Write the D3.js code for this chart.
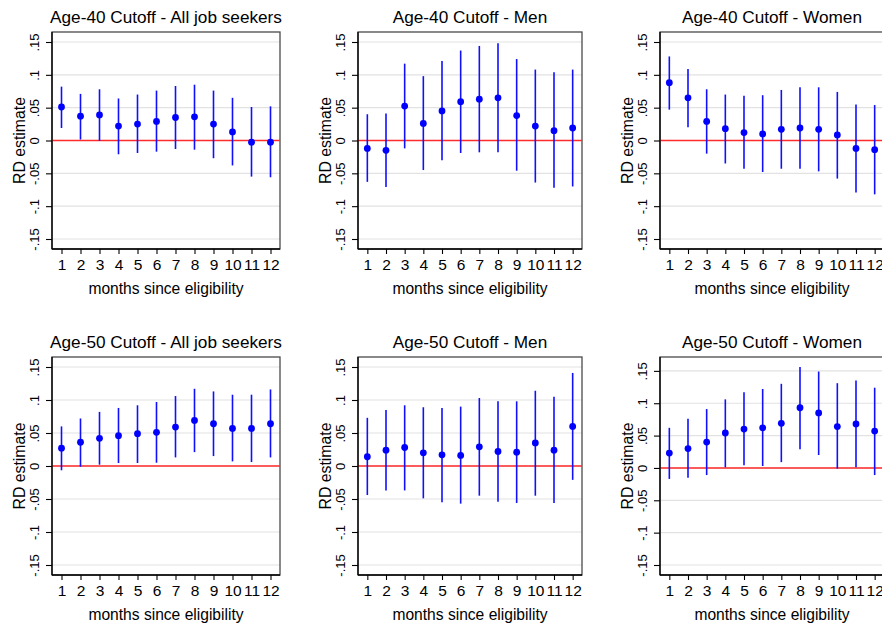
<!DOCTYPE html>
<html>
<head>
<meta charset="utf-8">
<script src="https://cdn.jsdelivr.net/npm/d3@7"></script>
<style>
  html, body { margin: 0; padding: 0; background: #fff; }
  svg { display: block; }
  text { font-family: "Liberation Sans", Arial, Helvetica, sans-serif; fill: #000; }
</style>
</head>
<body>
<svg id="chart" width="882" height="626"></svg>
<script>
// Months since eligibility (x categories)
const months = [1, 2, 3, 4, 5, 6, 7, 8, 9, 10, 11, 12];
// y-axis tick values
const yTicks = [-0.15, -0.1, -0.05, 0, 0.05, 0.1, 0.15];

// Panel titles
const titles = [
  "Age-40 Cutoff - All job seekers", "Age-40 Cutoff - Men", "Age-40 Cutoff - Women",
  "Age-50 Cutoff - All job seekers", "Age-50 Cutoff - Men", "Age-50 Cutoff - Women"
];

// RD point estimates and 95% confidence bounds per panel
const a40AllEst = [0.051, 0.037, 0.039, 0.022, 0.025, 0.029, 0.035, 0.036, 0.025, 0.013, -0.0025, -0.0025];
const a40AllLo  = [0.019, 0.0015, -0.0005, -0.021, -0.019, -0.017, -0.013, -0.014, -0.027, -0.038, -0.055, -0.056];
const a40AllHi  = [0.082, 0.071, 0.078, 0.064, 0.070, 0.076, 0.083, 0.085, 0.076, 0.065, 0.051, 0.052];

const a40MenEst = [-0.012, -0.015, 0.0525, 0.026, 0.045, 0.059, 0.063, 0.065, 0.038, 0.022, 0.015, 0.019];
const a40MenLo  = [-0.063, -0.071, -0.012, -0.045, -0.030, -0.019, -0.018, -0.018, -0.046, -0.064, -0.072, -0.070];
const a40MenHi  = [0.040, 0.041, 0.117, 0.098, 0.121, 0.137, 0.144, 0.148, 0.124, 0.108, 0.104, 0.108];

const a40WomEst = [0.088, 0.065, 0.029, 0.018, 0.012, 0.010, 0.017, 0.019, 0.017, 0.0085, -0.012, -0.014];
const a40WomLo  = [0.047, 0.020, -0.020, -0.035, -0.043, -0.048, -0.043, -0.043, -0.047, -0.058, -0.079, -0.082];
const a40WomHi  = [0.128, 0.109, 0.078, 0.070, 0.068, 0.069, 0.077, 0.081, 0.081, 0.074, 0.055, 0.054];

const a50AllEst = [0.027, 0.036, 0.042, 0.046, 0.049, 0.051, 0.059, 0.069, 0.064, 0.057, 0.057, 0.064];
const a50AllLo  = [-0.0065, -0.001, 0.002, 0.0045, 0.0045, 0.005, 0.013, 0.021, 0.015, 0.007, 0.006, 0.013];
const a50AllHi  = [0.060, 0.072, 0.082, 0.088, 0.092, 0.097, 0.106, 0.117, 0.113, 0.108, 0.108, 0.116];

const a50MenEst = [0.014, 0.024, 0.028, 0.020, 0.017, 0.016, 0.029, 0.022, 0.021, 0.035, 0.024, 0.060];
const a50MenLo  = [-0.044, -0.037, -0.037, -0.049, -0.055, -0.057, -0.045, -0.054, -0.056, -0.045, -0.056, -0.021];
const a50MenHi  = [0.073, 0.085, 0.092, 0.089, 0.088, 0.090, 0.103, 0.098, 0.098, 0.114, 0.105, 0.141];

const a50WomEst = [0.023, 0.030, 0.040, 0.054, 0.060, 0.062, 0.069, 0.093, 0.085, 0.064, 0.068, 0.057];
const a50WomLo  = [-0.017, -0.015, -0.011, 0.001, 0.004, 0.003, 0.009, 0.029, 0.020, -0.001, 0.001, -0.011];
const a50WomHi  = [0.062, 0.076, 0.091, 0.106, 0.117, 0.122, 0.130, 0.156, 0.149, 0.131, 0.135, 0.124];

const panelSeries = [
  [a40AllEst, a40AllLo, a40AllHi],
  [a40MenEst, a40MenLo, a40MenHi],
  [a40WomEst, a40WomLo, a40WomHi],
  [a50AllEst, a50AllLo, a50AllHi],
  [a50MenEst, a50MenLo, a50MenHi],
  [a50WomEst, a50WomLo, a50WomHi]
];

// Plot-region frames of the 3x2 grid
const cols = [{ x0: 52, x1: 280 }, { x0: 358, x1: 582 }, { x0: 660, x1: 884 }];
const rows = [{ y0: 32, y1: 249 }, { y0: 357, y1: 575 }];
const pad = 10; // inner margin between data range and frame

const svg = d3.select("#chart");
const fmt = d => d === 0 ? "0" : String(+d.toFixed(2)).replace("0.", ".");

panelSeries.forEach((s, i) => {
  const col = cols[i % 3], row = rows[Math.floor(i / 3)];
  const [est, lo, hi] = s;
  const rows_ = months.map((m, k) => ({ m, est: est[k], lo: lo[k], hi: hi[k] }));

  const yMin = Math.min(-0.15, d3.min(lo));
  const yMax = Math.max(0.15, d3.max(hi));
  const x = d3.scaleLinear().domain([0.5, 12.5]).range([col.x0, col.x1]);
  const y = d3.scaleLinear().domain([yMin, yMax]).range([row.y1 - pad, row.y0 + pad]);

  const g = svg.append("g");

  // Gridlines
  g.selectAll("line.grid").data(yTicks).join("line")
    .attr("class", "grid")
    .attr("x1", col.x0).attr("x2", col.x1)
    .attr("y1", d => y(d)).attr("y2", d => y(d))
    .attr("stroke", "#e2e2e2").attr("stroke-width", 1.2);

  // Plot-region outline
  g.append("rect")
    .attr("x", col.x0).attr("y", row.y0)
    .attr("width", col.x1 - col.x0).attr("height", row.y1 - row.y0)
    .attr("fill", "none").attr("stroke", "#4a4a4a").attr("stroke-width", 1.3);

  // Zero reference line
  g.append("line")
    .attr("x1", col.x0).attr("x2", col.x1)
    .attr("y1", y(0)).attr("y2", y(0))
    .attr("stroke", "#ff2a2a").attr("stroke-width", 1.4);

  // Confidence intervals
  g.selectAll("line.ci").data(rows_).join("line")
    .attr("class", "ci")
    .attr("x1", d => x(d.m)).attr("x2", d => x(d.m))
    .attr("y1", d => y(d.lo)).attr("y2", d => y(d.hi))
    .attr("stroke", "#1010ff").attr("stroke-width", 1.6);

  // Point estimates
  g.selectAll("circle").data(rows_).join("circle")
    .attr("cx", d => x(d.m)).attr("cy", d => y(d.est))
    .attr("r", 3.4).attr("fill", "#0000ff");

  // Y axis
  const ya = g.append("g").attr("transform", `translate(${col.x0},0)`)
    .call(d3.axisLeft(y).tickValues(yTicks).tickFormat(fmt).tickSize(6).tickSizeOuter(0));
  ya.select(".domain").attr("stroke", "#000").attr("stroke-width", 1.3)
    .attr("d", `M0,${row.y0}V${row.y1}`);
  ya.selectAll(".tick line").attr("stroke", "#000").attr("stroke-width", 1.1);
  ya.selectAll(".tick text")
    .attr("transform", "rotate(-90)")
    .attr("x", 0).attr("y", -13.5).attr("dy", 0)
    .attr("text-anchor", "middle")
    .style("font-size", "13px").style("font-family", "'Liberation Sans', Arial, sans-serif");

  // X axis
  const xa = g.append("g").attr("transform", `translate(0,${row.y1})`)
    .call(d3.axisBottom(x).tickValues(months).tickFormat(d3.format("d")).tickSize(5).tickSizeOuter(0));
  xa.select(".domain").attr("stroke", "#000").attr("stroke-width", 1.3)
    .attr("d", `M${col.x0},0H${col.x1}`);
  xa.selectAll(".tick line").attr("stroke", "#000").attr("stroke-width", 1.1);
  xa.selectAll(".tick text")
    .attr("y", 20.5).attr("dy", 0)
    .style("font-size", "15.5px").style("font-family", "'Liberation Sans', Arial, sans-serif");

  const cx = (col.x0 + col.x1) / 2, cy = (row.y0 + row.y1) / 2;

  // Panel title
  g.append("text").attr("x", cx).attr("y", row.y0 - 9)
    .attr("text-anchor", "middle").style("font-size", "17.2px")
    .text(titles[i]);

  // Axis titles
  g.append("text").attr("x", cx).attr("y", row.y1 + 45)
    .attr("text-anchor", "middle").style("font-size", "15.6px")
    .text("months since eligibility");
  g.append("text")
    .attr("transform", `translate(${col.x0 - 27},${cy}) rotate(-90)`)
    .attr("text-anchor", "middle").style("font-size", "15.8px")
    .text("RD estimate");
});
</script>
</body>
</html>
